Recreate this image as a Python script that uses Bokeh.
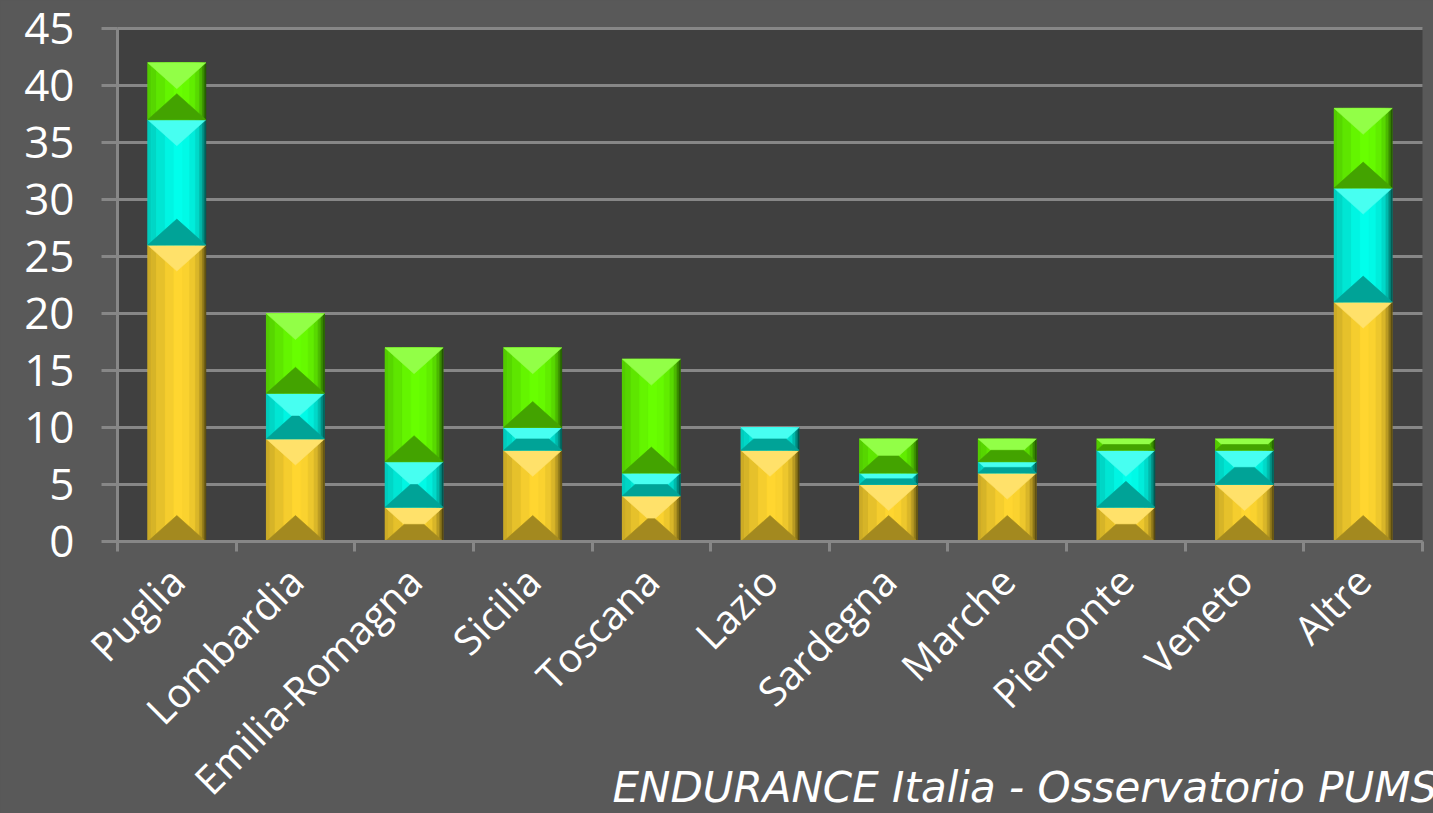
import numpy as np
from bokeh.plotting import figure
from bokeh.models import Range1d, FixedTicker, BoxAnnotation
from bokeh.core.properties import value
from bokeh.embed import file_html
from bokeh.resources import INLINE

regions = ["Puglia", "Lombardia", "Emilia-Romagna", "Sicilia", "Toscana", "Lazio",
           "Sardegna", "Marche", "Piemonte", "Veneto", "Altre"]
serie_gialla = [26, 9, 3, 8, 4, 8, 5, 6, 3, 5, 21]
serie_ciano = [11, 4, 4, 2, 2, 2, 1, 1, 5, 3, 10]
serie_verde = [5, 7, 10, 7, 10, 0, 3, 2, 1, 1, 7]
y_ticks = [0, 5, 10, 15, 20, 25, 30, 35, 40, 45]
footer = "ENDURANCE Italia - Osservatorio PUMS"

BG = "#595959"
PLOT_BG = "#404040"
GRID = "#878787"
FONT = "Open Sans"

# page layout in pixels: value area spans x 117..1422, y 28..541
W, H = 1433, 813
PX_L, PX_R, PX_T, PX_B = 117, 1422, 28, 541
N = len(regions)
YMAX = 45
ux = N / (PX_R - PX_L)          # x data units per pixel
uy = YMAX / (PX_B - PX_T)       # y data units per pixel
x_lo, x_hi = -0.5, N - 0.5

p = figure(width=W, height=H, output_backend="svg", toolbar_location=None,
           x_range=Range1d(x_lo - PX_L * ux, x_hi + (W - PX_R) * ux),
           y_range=Range1d(-(H - PX_B) * uy, YMAX + PX_T * uy),
           min_border_left=0, min_border_right=0, min_border_top=0, min_border_bottom=0)
p.background_fill_color = BG
p.border_fill_color = BG
p.outline_line_color = None
p.xgrid.visible = False
p.ygrid.visible = False

# dark value area
p.add_layout(BoxAnnotation(left=x_lo, right=x_hi, bottom=0, top=YMAX, fill_color=PLOT_BG,
                           fill_alpha=1.0, line_color=None, level="image"))

# horizontal grid lines (from the tick list)
p.segment(x0=[x_lo] * len(y_ticks), y0=y_ticks, x1=[x_hi] * len(y_ticks), y1=y_ticks,
          line_color=GRID, line_width=3)

xs = list(range(N))
data = dict(x=xs, gialla=serie_gialla, ciano=serie_ciano, verde=serie_verde)
BW = 0.49
base_cols = {"gialla": (255, 214, 48), "ciano": (0, 255, 236), "verde": (104, 255, 0)}
p.vbar_stack(["gialla", "ciano", "verde"], x="x", width=BW, source=data,
             color=["#FFD630", "#00FFEC", "#68FF00"], line_color=None)


def shade(rgb, f):
    if f <= 1:
        c = [int(round(v * f)) for v in rgb]
    else:
        c = [int(round(v + (255 - v) * (f - 1))) for v in rgb]
    return "#%02x%02x%02x" % tuple(min(255, max(0, v)) for v in c)


# horizontal shading profile across the bar (style only)
prof_t = [0.0, 0.06, 0.15, 0.3, 0.45, 0.6, 0.72, 0.82, 0.89, 0.94, 0.98, 1.0]
prof_f = [0.80, 0.84, 0.90, 0.96, 1.0, 0.98, 0.93, 0.85, 0.72, 0.55, 0.35]
D = 26 * uy  # bevel depth
fx, fy, fc = [], [], []
cum = np.zeros(N)
for key, vals in (("gialla", serie_gialla), ("ciano", serie_ciano), ("verde", serie_verde)):
    rgb = base_cols[key]
    for i, v in enumerate(vals):
        if v <= 0:
            continue
        bot = cum[i]
        top = cum[i] + v
        L = xs[i] - BW / 2
        R = xs[i] + BW / 2
        for k in range(len(prof_f)):
            a = L + BW * prof_t[k]
            b = L + BW * prof_t[k + 1]
            fx.append([a, b, b, a])
            fy.append([top, top, bot, bot])
            fc.append(shade(rgb, prof_f[k]))
        h = min(D, v / 2)
        dx = (BW / 2) * h / D
        fx.append([L, R, R - dx, L + dx])
        fy.append([top, top, top - h, top - h])
        fc.append(shade(rgb, 1.28))
        fx.append([L, R, R - dx, L + dx])
        fy.append([bot, bot, bot + h, bot + h])
        fc.append(shade(rgb, 0.64))
    cum = cum + np.array(vals)
p.patches(xs=fx, ys=fy, fill_color=fc, line_color=fc, line_width=0.6)

# y axis, pinned to the left edge of the value area
ya = p.yaxis[0]
ya.fixed_location = x_lo
ya.bounds = (0, YMAX)
ya.ticker = FixedTicker(ticks=y_ticks)
ya.axis_line_color = GRID
ya.axis_line_width = 3
ya.major_tick_line_color = GRID
ya.major_tick_line_width = 3
ya.major_tick_out = 16
ya.major_tick_in = 0
ya.minor_tick_line_color = None
ya.major_label_text_color = "white"
ya.major_label_text_font = FONT
ya.major_label_text_font_size = "44px"
ya.major_label_standoff = 27

# x axis, pinned at zero
xa = p.xaxis[0]
xa.fixed_location = 0
xa.bounds = (x_lo, x_hi)
xa.ticker = FixedTicker(ticks=xs, minor_ticks=[i - 0.5 for i in range(N + 1)])
xa.major_label_overrides = {i: r for i, r in zip(xs, regions)}
xa.axis_line_color = GRID
xa.axis_line_width = 3
xa.major_tick_line_color = None
xa.minor_tick_line_color = GRID
xa.minor_tick_line_width = 3
xa.minor_tick_out = 10
xa.minor_tick_in = 0
xa.major_label_orientation = np.pi / 4
xa.major_label_text_color = "white"
xa.major_label_text_font = FONT
xa.major_label_text_font_size = "40px"
xa.major_label_standoff = 22

# footer text, starting at x=612 px (baseline tuned to land at ~805 px)
p.text(x=[x_lo + (612 - PX_L) * ux], y=[-(787 - PX_B) * uy], text=[footer],
       text_color="white", text_font=value("DejaVu Sans"), text_font_style="italic",
       text_font_size="42px", text_baseline="alphabetic", text_align="left")

html = file_html(p, INLINE)
html = html.replace("</head>", "<style>html,body{background:#595959;}</style></head>", 1)
open("out.html", "w").write(html)
